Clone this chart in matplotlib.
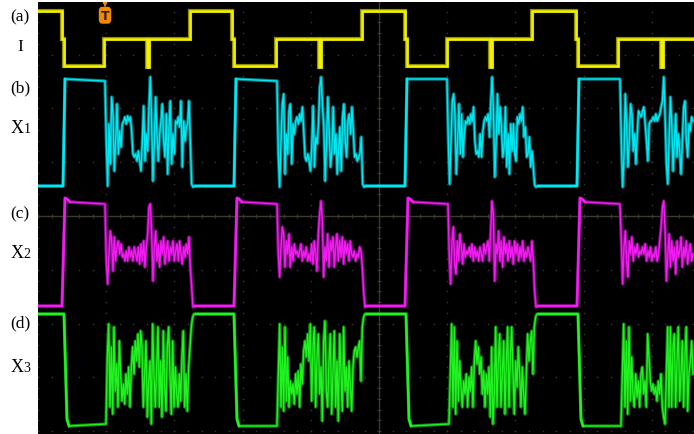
import numpy as np
import matplotlib
matplotlib.use("Agg")
import matplotlib.pyplot as plt
from matplotlib.patches import FancyBboxPatch, Polygon

# ---------------- data (screen units) ----------------
# channel (a) I : step trace
I_t = [38, 62, 64, 104, 147, 149, 190, 232, 234, 276, 319, 321, 362, 405, 407,
       447, 490, 492, 532, 576, 578, 618, 661, 663, 694]
I_v = [12, 40, 67, 40, 68, 40, 12, 40, 67, 40, 68, 40, 12, 40, 67,
       40, 68, 40, 12, 40, 67, 40, 68, 40, 40]

# channel (b) X1
X1_flat_t = [[38, 63, 65], [195, 234, 236], [366, 405, 407], [538, 577, 579]]
X1_flat_y = [[187, 187, 80], [187, 187, 80], [187, 187, 80], [187, 187, 80]]
X1_burst_t = [[105, 193], [277, 364], [447, 536], [620, 693]]
X1_b1 = [82, 142, 187, 125, 165, 98, 115, 172, 142, 105, 155, 132, 148, 125, 122,
         118, 125, 117, 122, 118, 132, 155, 158, 155, 162, 152, 162, 172, 142, 107,
         162, 135, 152, 108, 78, 125, 182, 142, 98, 135, 162, 135, 122, 105, 142,
         158, 115, 175, 128, 102, 165, 135, 155, 122, 125, 118, 128, 102, 168, 122,
         142, 128, 125, 102, 142, 185, 188]
X1_b2 = [82, 155, 188, 142, 105, 95, 175, 135, 155, 112, 105, 165, 125, 135, 122,
         118, 125, 115, 122, 108, 132, 158, 162, 155, 162, 172, 148, 107, 168, 138,
         145, 125, 88, 78, 108, 128, 182, 142, 98, 132, 168, 152, 108, 155, 135,
         175, 152, 128, 172, 118, 105, 142, 158, 122, 115, 135, 108, 132, 158, 155,
         162, 158, 155, 138, 185, 188]
X1_b3 = [80, 142, 185, 142, 102, 95, 115, 175, 142, 105, 155, 115, 158, 135, 122,
         125, 118, 125, 115, 122, 108, 142, 155, 152, 158, 135, 158, 132, 122, 118,
         122, 115, 138, 102, 78, 115, 178, 142, 95, 135, 108, 128, 158, 148, 108,
         168, 135, 175, 125, 152, 125, 155, 162, 118, 125, 115, 122, 108, 138, 128,
         158, 155, 138, 168, 152, 168, 186, 188]
X1_b4 = [80, 142, 188, 158, 95, 125, 168, 142, 105, 115, 152, 135, 165, 135, 112,
         115, 118, 112, 108, 125, 142, 162, 125, 122, 122, 118, 122, 115, 122, 118,
         115, 108, 102, 78, 118, 165, 185, 142, 98, 125, 172, 142, 115, 158, 135,
         152, 175, 142, 108, 102, 142, 158, 125, 132, 118, 122]

# channel (c) X2
X2_flat_t = [[38, 62, 65, 67, 70], [195, 234, 237, 239, 242],
             [366, 405, 408, 410, 413], [538, 577, 580, 582, 585]]
X2_flat_y = [[307, 307, 199, 200, 203]] * 4
X2_burst_t = [[105, 193], [277, 365], [448, 536], [620, 693]]
X2_b1 = [205, 262, 285, 255, 232, 242, 272, 238, 262, 248, 242, 255, 245, 258, 255,
         262, 252, 262, 248, 258, 252, 262, 248, 255, 262, 248, 265, 245, 262, 242,
         268, 248, 235, 208, 205, 235, 282, 248, 232, 262, 245, 268, 242, 255, 238,
         265, 252, 242, 262, 248, 255, 242, 262, 252, 245, 262, 242, 255, 265, 248,
         258, 245, 255, 238, 268, 288, 308]
X2_b2 = [205, 255, 278, 248, 228, 235, 268, 242, 255, 235, 268, 248, 262, 245, 255,
         252, 258, 252, 245, 262, 252, 258, 248, 262, 255, 262, 245, 265, 242, 255,
         272, 235, 215, 202, 222, 278, 248, 262, 235, 268, 242, 252, 238, 268, 248,
         235, 262, 242, 258, 238, 265, 242, 255, 245, 262, 242, 255, 258, 252, 262,
         255, 258, 248, 252, 268, 292, 308]
X2_b3 = [205, 258, 285, 242, 228, 265, 275, 242, 262, 235, 248, 265, 245, 258, 252,
         255, 248, 258, 245, 262, 248, 258, 252, 262, 248, 255, 262, 245, 255, 248,
         242, 262, 232, 202, 215, 282, 245, 255, 232, 262, 242, 268, 238, 255, 245,
         262, 242, 258, 248, 265, 242, 255, 245, 262, 248, 258, 242, 262, 252, 258,
         248, 255, 262, 242, 262, 292, 308]
X2_b4 = [205, 242, 285, 248, 232, 262, 278, 242, 255, 238, 262, 248, 255, 245, 258,
         252, 255, 248, 255, 245, 262, 252, 258, 248, 262, 255, 258, 248, 262, 255,
         242, 228, 208, 202, 232, 282, 255, 235, 268, 242, 262, 248, 275, 242, 258,
         252, 238, 268, 248, 258, 242, 265, 252, 245, 262, 255]

# channel (d) X3
X3_flat_t = [[38, 64, 67, 69], [196, 234, 237, 239],
             [367, 406, 409, 411], [539, 578, 581, 583]]
X3_flat_y = [[315, 315, 420, 427]] * 4
X3_burst_t = [[106, 194], [277, 365], [449, 537], [621, 693]]
X3_b1 = [425, 358, 325, 408, 348, 415, 328, 392, 365, 408, 342, 375, 402, 385, 405,
         375, 395, 368, 408, 368, 348, 375, 342, 362, 335, 368, 332, 348, 408, 375,
         342, 418, 382, 362, 425, 325, 375, 408, 368, 328, 408, 362, 418, 332, 388,
         412, 348, 328, 375, 415, 342, 408, 368, 395, 408, 375, 402, 358, 332, 408,
         375, 412, 368, 348, 328, 318, 315]
X3_b2 = [427, 375, 325, 408, 348, 412, 328, 402, 358, 408, 382, 395, 385, 405, 375,
         395, 372, 408, 365, 385, 352, 342, 358, 335, 362, 325, 402, 348, 328, 408,
         358, 335, 395, 368, 422, 342, 322, 392, 408, 362, 335, 415, 375, 332, 408,
         362, 422, 335, 375, 412, 328, 392, 368, 408, 362, 388, 412, 368, 352, 348,
         358, 348, 342, 382, 328, 318, 315]
X3_b3 = [425, 375, 325, 408, 328, 415, 342, 402, 362, 388, 408, 382, 395, 375, 408,
         378, 392, 368, 408, 362, 342, 365, 348, 375, 358, 395, 372, 408, 375, 395,
         368, 418, 348, 425, 395, 328, 408, 362, 335, 408, 375, 342, 415, 365, 328,
         408, 358, 328, 375, 415, 362, 388, 348, 375, 408, 368, 395, 415, 375, 335,
         362, 342, 332, 375, 328, 318, 315]
X3_b4 = [427, 375, 325, 408, 342, 415, 328, 402, 358, 395, 408, 375, 398, 382, 408,
         375, 368, 395, 382, 408, 335, 358, 382, 392, 385, 395, 388, 402, 382, 395,
         375, 408, 418, 425, 375, 328, 408, 328, 408, 348, 335, 408, 362, 328, 402,
         375, 342, 408, 355, 328, 412, 375, 362, 342, 375]

labels = ["(a)", "I", "(b)", "X", "(c)", "X", "(d)", "X"]
subs = ["1", "2", "3"]


def build(flat_t, flat_y, burst_t, bursts):
    xs, ys = [], []
    for k in range(len(flat_t)):
        xs += list(flat_t[k])
        ys += list(flat_y[k])
        x0, x1 = burst_t[k]
        b = bursts[k]
        xs += list(np.linspace(x0, x1, len(b)))
        ys += list(b)
    return np.array(xs, float), np.array(ys, float)


fig = plt.figure(figsize=(6.94, 4.35), dpi=100)
fig.patch.set_facecolor("white")
ax = fig.add_axes([38 / 694, 0, 656 / 694, 432 / 435])
ax.set_facecolor("black")
ax.set_xlim(38, 694)
ax.set_ylim(435, 3)
ax.set_xticks([])
ax.set_yticks([])
for s in ax.spines.values():
    s.set_visible(False)

# ---- graticule ----
cx, cy, dx, dy = 379.0, 217.0, 68.2, 53.8
gx = [cx + k * dx for k in range(-5, 6)]
gy = [cy + k * dy for k in range(-4, 5)]
for x in gx:
    if abs(x - cx) < 1:
        continue
    yy = np.arange(cy - 4 * dy, cy + 4 * dy + 1, dy / 5)
    ax.plot(np.full_like(yy, x), yy, ls="none", marker="s", ms=1.0,
            mfc="#3a3a3a", mec="none", zorder=1)
for y in gy:
    if abs(y - cy) < 1:
        continue
    xx = np.arange(cx - 5 * dx, cx + 5 * dx + 1, dx / 5)
    ax.plot(xx, np.full_like(xx, y), ls="none", marker="s", ms=1.0,
            mfc="#3a3a3a", mec="none", zorder=1)
ax.axvline(cx, color="#3b3a2e", lw=1.0, zorder=1)
ax.axhline(cy, color="#3b3a2e", lw=1.0, zorder=1)
xx = np.arange(cx - 5 * dx, cx + 5 * dx + 1, dx / 5)
ax.plot(xx, np.full_like(xx, cy), ls="none", marker="|", ms=3, mew=0.8,
        color="#3b3a2e", zorder=1)
yy = np.arange(cy - 4 * dy, cy + 4 * dy + 1, dy / 5)
ax.plot(np.full_like(yy, cx), yy, ls="none", marker="_", ms=3, mew=0.8,
        color="#3b3a2e", zorder=1)

# ---- traces ----
ax.plot(I_t, I_v, drawstyle="steps-post", color="#8f8f00", lw=3.0, zorder=3,
        solid_joinstyle="miter")
ax.plot(I_t, I_v, drawstyle="steps-post", color="#f2f200", lw=1.8, zorder=4,
        solid_joinstyle="miter")

chans = [
    (X1_flat_t, X1_flat_y, X1_burst_t, [X1_b1, X1_b2, X1_b3, X1_b4],
     "#00e8f2", "#007f88"),
    (X2_flat_t, X2_flat_y, X2_burst_t, [X2_b1, X2_b2, X2_b3, X2_b4],
     "#f21cf2", "#860a86"),
    (X3_flat_t, X3_flat_y, X3_burst_t, [X3_b1, X3_b2, X3_b3, X3_b4],
     "#22f222", "#0a860a"),
]
for ft, fy, bt, bs, col, dcol in chans:
    x, y = build(ft, fy, bt, bs)
    ax.plot(x, y, color=dcol, lw=2.4, zorder=3, solid_joinstyle="round")
    ax.plot(x, y, color=col, lw=1.0, zorder=4, solid_joinstyle="round")
    # thicker flat parts
    for k in range(len(ft)):
        ax.plot(ft[k], fy[k], color=col, lw=1.8, zorder=4)

# ---- trigger marker ----
box = FancyBboxPatch((99.5, 8.5), 11, 15.5,
                     boxstyle="round,pad=0,rounding_size=2.5",
                     fc="#f08a00", ec="#f08a00", zorder=6, clip_on=False,
                     mutation_aspect=1.3)
ax.add_patch(box)
ax.add_patch(Polygon([[102.5, 3], [107.5, 3], [105, 8.5]], closed=True,
                     fc="#f08a00", ec="none", zorder=6))
ax.text(105, 16.5, "T", ha="center", va="center", fontsize=9,
        fontweight="bold", color="#3a1e00", family="DejaVu Sans", zorder=7)

# ---- labels on the left ----
fam = ["Liberation Serif", "DejaVu Serif"]
ypos = [17, 47, 88, 127, 214, 252, 323, 366]
for i, (lab, yp) in enumerate(zip(labels, ypos)):
    if lab == "X":
        # X with small digit
        fig.text(11 / 694, 1 - (yp + 6) / 435, lab, fontsize=13, family=fam,
                 ha="left", va="baseline", color="black")
        fig.text(23.5 / 694, 1 - (yp + 6) / 435, subs[(i - 3) // 2],
                 fontsize=10, family=fam, ha="left", va="baseline",
                 color="black")
    else:
        fig.text(20 / 694, 1 - yp / 435, lab, fontsize=12.5, family=fam,
                 ha="center", va="center", color="black")

fig.savefig("out.png", dpi=100, facecolor="white")
